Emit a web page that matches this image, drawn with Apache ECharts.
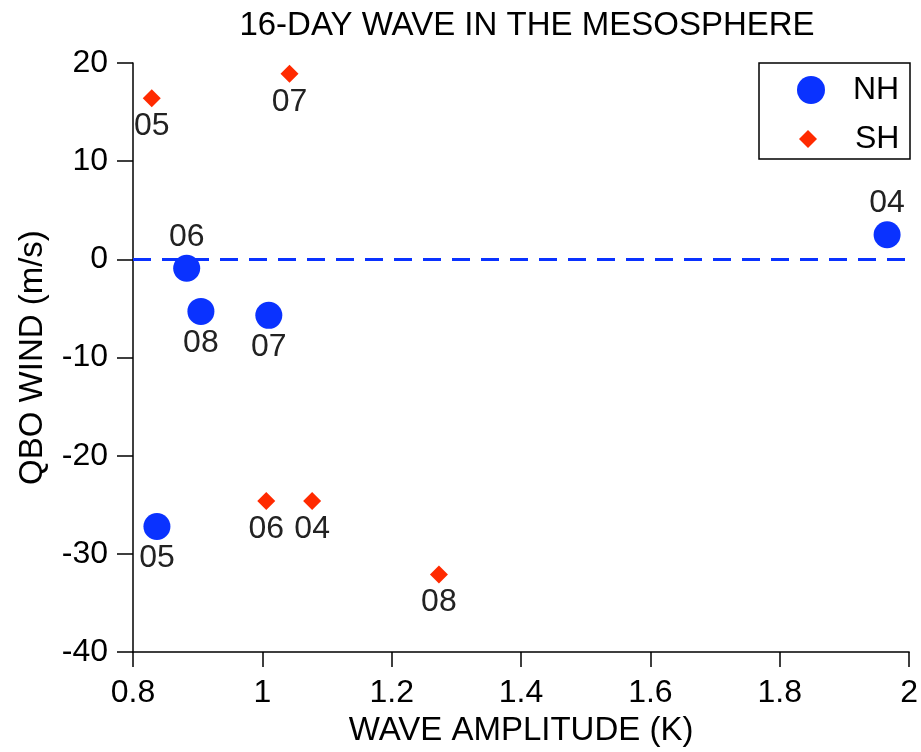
<!DOCTYPE html>
<html>
<head>
<meta charset="utf-8">
<script src="https://cdn.jsdelivr.net/npm/echarts@6/dist/echarts.min.js"></script>
<style>
  html, body { margin: 0; padding: 0; background: #fff; }
  #chart { width: 921px; height: 752px; }
</style>
</head>
<body>
<div id="chart"></div>
<script>
// NH points: [amplitude (K), QBO wind (m/s)], with year labels
const nhYears = ['05', '06', '08', '07', '04'];
const nhAmp = [0.837, 0.883, 0.905, 1.010, 1.966];
const nhWind = [-27.2, -0.9, -5.3, -5.7, 2.5];
const nhLabelPos = ['bottom', 'top', 'bottom', 'bottom', 'top'];

// SH points
const shYears = ['05', '07', '06', '04', '08'];
const shAmp = [0.829, 1.042, 1.006, 1.077, 1.273];
const shWind = [16.4, 18.9, -24.6, -24.6, -32.1];

const xTicks = [0.8, 2, 0.2];
const yTicks = [-40, 20, 10];

const font = 'Liberation Sans, Arial, sans-serif';

let myChart = echarts.init(document.getElementById('chart'));

function makeData(amp, wind, years, pos) {
    return amp.map(function (a, i) {
        return {
            value: [a, wind[i]],
            name: years[i],
            label: { position: pos ? pos[i] : 'bottom' }
        };
    });
}

let option = {
    animation: false,
    backgroundColor: '#fff',
    title: {
        text: '16-DAY WAVE IN THE MESOSPHERE',
        left: 522,
        top: 4,
        textAlign: 'center',
        textStyle: { color: '#000', fontSize: 33, fontWeight: 'normal', fontFamily: font }
    },
    grid: { left: 133, right: 9, top: 63, bottom: 99 },
    legend: [
        {
            data: ['NH'],
            orient: 'vertical',
            left: 792, top: 69,
            itemWidth: 28, itemHeight: 28,
            selectedMode: false,
            textStyle: { fontSize: 32, color: '#000', fontFamily: font, padding: [0, 0, 0, 23] }
        },
        {
            data: ['SH'],
            orient: 'vertical',
            left: 794, top: 118,
            itemWidth: 18, itemHeight: 18,
            selectedMode: false,
            textStyle: { fontSize: 32, color: '#000', fontFamily: font, padding: [0, 0, 0, 33] }
        }
    ],
    graphic: [{
        type: 'rect',
        shape: { x: 759, y: 63, width: 151, height: 96 },
        style: { fill: 'none', stroke: '#000', lineWidth: 1.5 },
        z: 100
    }],
    xAxis: {
        type: 'value',
        min: xTicks[0], max: xTicks[1], interval: xTicks[2],
        name: 'WAVE AMPLITUDE (K)',
        nameLocation: 'middle',
        nameGap: 60,
        nameTextStyle: { fontSize: 33, color: '#000', fontFamily: font },
        axisLine: { onZero: false, lineStyle: { color: '#000', width: 1.5 } },
        axisTick: { length: 15, lineStyle: { color: '#000', width: 1.5 } },
        axisLabel: {
            fontSize: 32, color: '#000', fontFamily: font, margin: 25,
            formatter: function (v) { return String(parseFloat(v.toFixed(1))); }
        },
        splitLine: { show: false }
    },
    yAxis: {
        type: 'value',
        min: yTicks[0], max: yTicks[1], interval: yTicks[2],
        name: 'QBO WIND (m/s)',
        nameLocation: 'middle',
        nameGap: 84,
        nameTextStyle: { fontSize: 33, color: '#000', fontFamily: font },
        axisLine: { lineStyle: { color: '#000', width: 1.5 } },
        axisTick: { length: 16, lineStyle: { color: '#000', width: 1.5 } },
        axisLabel: { fontSize: 32, color: '#000', fontFamily: font, margin: 25 },
        splitLine: { show: false }
    },
    series: [
        {
            name: 'NH',
            type: 'scatter',
            symbol: 'circle',
            symbolSize: 27,
            itemStyle: { color: '#0A32FF', opacity: 1 },
            label: {
                show: true, distance: 2,
                formatter: '{b}',
                fontSize: 32, color: '#222', fontFamily: font
            },
            data: makeData(nhAmp, nhWind, nhYears, nhLabelPos),
            markLine: {
                silent: true,
                symbol: 'none',
                label: { show: false },
                lineStyle: { color: '#0A32FF', type: [18, 11], width: 3 },
                data: [{ yAxis: 0 }]
            }
        },
        {
            name: 'SH',
            type: 'scatter',
            symbol: 'diamond',
            symbolSize: 18,
            itemStyle: { color: '#FF2A00', opacity: 1 },
            label: {
                show: true, distance: 3,
                formatter: '{b}',
                fontSize: 32, color: '#222', fontFamily: font
            },
            data: makeData(shAmp, shWind, shYears, null)
        }
    ]
};

myChart.setOption(option);
</script>
</body>
</html>
